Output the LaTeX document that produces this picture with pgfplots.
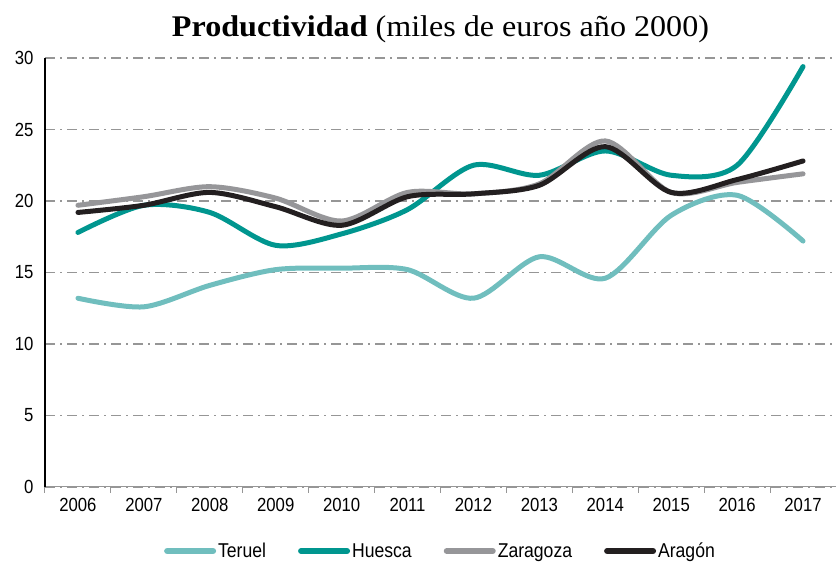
\documentclass[border=0pt]{standalone}
\usepackage{fontspec}
\setmainfont{Liberation Serif}
\setsansfont{Liberation Sans}[FakeStretch=0.88]
\newfontfamily\titlefont{Liberation Serif}[FakeStretch=1.07]
\usepackage{pgfplots}
\pgfplotsset{compat=1.18}
\definecolor{teruel}{RGB}{112,190,190}
\definecolor{huesca}{RGB}{0,150,143}
\definecolor{zaragoza}{RGB}{150,150,153}
\definecolor{aragon}{RGB}{35,31,32}
\definecolor{gridgray}{RGB}{150,150,150}
\begin{document}
\begin{tikzpicture}
\path[use as bounding box] (0pt,0pt) rectangle (836pt,562pt);
\begin{axis}[
  at={(45pt,75pt)}, anchor=south west,
  scale only axis, width=791pt, height=429pt,
  xmin=-0.5, xmax=11.5, ymin=0, ymax=30,
  axis lines*=left,
  y axis line style={black, line width=2pt},
  x axis line style={gridgray, line width=1pt},
  xtick={0,...,11},
  xticklabels={2006,2007,2008,2009,2010,2011,2012,2013,2014,2015,2016,2017},
  minor xtick={-0.5,0.5,...,11.5},
  major tick length=0pt,
  minor tick length=6pt,
  tick align=outside,
  minor tick style={gridgray, line width=1pt},
  ytick={0,5,...,30},
  ymajorgrids,
  grid style={gridgray, line width=1.2pt, dash pattern=on 10pt off 5pt on 2pt off 5pt},
  /pgf/number format/assume math mode=true,
  ticklabel style={font=\sffamily\fontsize{19}{19}\selectfont, text=black},
  yticklabel style={xshift=-8pt},
  xticklabel style={yshift=-8pt},
  title={\titlefont\fontsize{30}{30}\selectfont\textbf{Productividad} (miles de euros año 2000)},
  title style={at={(0.5,1)}, anchor=center, yshift=23pt},
  legend style={at={(0.5,0)}, anchor=center, yshift=-64pt, draw=none, fill=none,
    legend columns=-1, font=\sffamily\fontsize{20}{20}\selectfont,
    /tikz/every even column/.append style={column sep=30pt}},
  legend cell align=left,
  legend image code/.code={\draw[#1, line width=6pt, line cap=round] (0pt,0pt) -- (46pt,0pt);},
  every axis plot/.append style={line width=5pt, smooth, line cap=round},
]
\addplot[teruel] coordinates {(0,13.2)(1,12.6)(2,14.1)(3,15.2)(4,15.3)(5,15.2)(6,13.2)(7,16.1)(8,14.6)(9,19.0)(10,20.4)(11,17.2)};
\addlegendentry{Teruel}
\addplot[huesca] coordinates {(0,17.8)(1,19.7)(2,19.2)(3,16.9)(4,17.7)(5,19.4)(6,22.5)(7,21.8)(8,23.5)(9,21.8)(10,22.5)(11,29.4)};
\addlegendentry{Huesca}
\addplot[zaragoza] coordinates {(0,19.7)(1,20.3)(2,21.0)(3,20.2)(4,18.6)(5,20.6)(6,20.5)(7,21.2)(8,24.2)(9,20.6)(10,21.3)(11,21.9)};
\addlegendentry{Zaragoza}
\addplot[aragon] coordinates {(0,19.2)(1,19.7)(2,20.6)(3,19.6)(4,18.3)(5,20.3)(6,20.5)(7,21.1)(8,23.8)(9,20.6)(10,21.5)(11,22.8)};
\addlegendentry{Aragón}
\end{axis}
\end{tikzpicture}
\end{document}
